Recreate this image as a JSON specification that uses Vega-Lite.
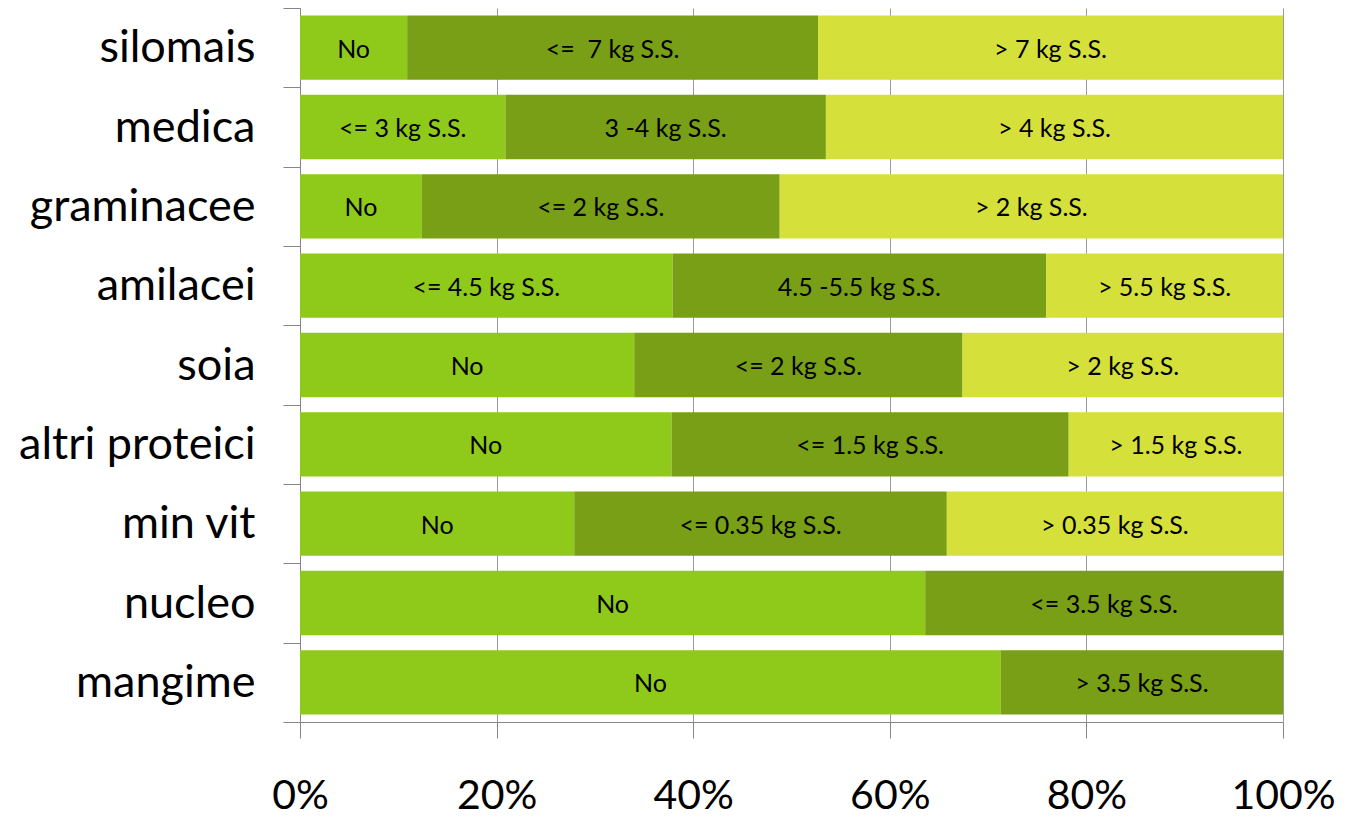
{
  "$schema": "https://vega.github.io/schema/vega-lite/v6.json",
  "autosize": {"type": "none"},
  "padding": {"left": 300, "top": 8, "right": 69, "bottom": 95},
  "width": 983,
  "height": 714,
  "background": "white",
  "config": {"view": {"stroke": null}, "font": "Lato"},
  "data": {"values": [
    {"cat": "silomais", "ord": 1, "v": 10.9, "label": "No"},
    {"cat": "silomais", "ord": 2, "v": 41.8, "label": "<= \u00a07 kg S.S."},
    {"cat": "silomais", "ord": 3, "v": 47.3, "label": "> 7 kg S.S."},
    {"cat": "medica", "ord": 1, "v": 20.9, "label": "<= 3 kg S.S."},
    {"cat": "medica", "ord": 2, "v": 32.6, "label": "3 -4 kg S.S."},
    {"cat": "medica", "ord": 3, "v": 46.5, "label": "> 4 kg S.S."},
    {"cat": "graminacee", "ord": 1, "v": 12.4, "label": "No"},
    {"cat": "graminacee", "ord": 2, "v": 36.4, "label": "<= 2 kg S.S."},
    {"cat": "graminacee", "ord": 3, "v": 51.2, "label": "> 2 kg S.S."},
    {"cat": "amilacei", "ord": 1, "v": 37.9, "label": "<= 4.5 kg S.S."},
    {"cat": "amilacei", "ord": 2, "v": 38.0, "label": "4.5 -5.5 kg S.S."},
    {"cat": "amilacei", "ord": 3, "v": 24.1, "label": "> 5.5 kg S.S."},
    {"cat": "soia", "ord": 1, "v": 34.0, "label": "No"},
    {"cat": "soia", "ord": 2, "v": 33.4, "label": "<= 2 kg S.S."},
    {"cat": "soia", "ord": 3, "v": 32.6, "label": "> 2 kg S.S."},
    {"cat": "altri proteici", "ord": 1, "v": 37.8, "label": "No"},
    {"cat": "altri proteici", "ord": 2, "v": 40.4, "label": "<= 1.5 kg S.S."},
    {"cat": "altri proteici", "ord": 3, "v": 21.8, "label": "> 1.5 kg S.S."},
    {"cat": "min vit", "ord": 1, "v": 27.9, "label": "No"},
    {"cat": "min vit", "ord": 2, "v": 37.9, "label": "<= 0.35 kg S.S."},
    {"cat": "min vit", "ord": 3, "v": 34.2, "label": "> 0.35 kg S.S."},
    {"cat": "nucleo", "ord": 1, "v": 63.6, "label": "No"},
    {"cat": "nucleo", "ord": 2, "v": 36.4, "label": "<= 3.5 kg S.S."},
    {"cat": "mangime", "ord": 1, "v": 71.3, "label": "No"},
    {"cat": "mangime", "ord": 2, "v": 28.7, "label": "> 3.5 kg S.S."}
  ]},
  "transform": [
    {"stack": "v", "groupby": ["cat"], "sort": [{"field": "ord", "order": "ascending"}], "offset": "normalize", "as": ["x0", "x1"]},
    {"calculate": "(datum.x0 + datum.x1) / 2", "as": "mid"}
  ],
  "encoding": {
    "y": {
      "field": "cat", "type": "nominal",
      "sort": ["silomais", "medica", "graminacee", "amilacei", "soia", "altri proteici", "min vit", "nucleo", "mangime"],
      "scale": {"paddingInner": 0, "paddingOuter": 0},
      "axis": {
        "title": null, "tickBand": "extent", "tickSize": 17, "tickColor": "#868686",
        "domainColor": "#868686", "labelPadding": 28, "labelFontSize": 45,
        "labelColor": "#000000", "labelFont": "Lato", "labelLimit": 0, "grid": false
      }
    }
  },
  "layer": [
    {
      "mark": {"type": "bar", "height": {"band": 0.81}},
      "encoding": {
        "x": {
          "field": "x0", "type": "quantitative",
          "scale": {"domain": [0, 1], "nice": false},
          "axis": {
            "title": null, "format": ".0%", "values": [0, 0.2, 0.4, 0.6, 0.8, 1],
            "grid": true, "gridColor": "#9a9a9a", "tickColor": "#868686",
            "domainColor": "#868686", "tickSize": 16, "labelFontSize": 41,
            "labelColor": "#000000", "labelPadding": 38, "labelFont": "Lato",
            "labelFlush": false
          }
        },
        "x2": {"field": "x1"},
        "color": {
          "field": "ord", "type": "ordinal", "legend": null,
          "scale": {"domain": [1, 2, 3], "range": ["#8fc91a", "#789f15", "#d5e13a"]}
        }
      }
    },
    {
      "mark": {"type": "text", "fontSize": 25, "color": "#000000", "font": "Lato", "baseline": "middle", "dy": 2},
      "encoding": {
        "x": {"field": "mid", "type": "quantitative"},
        "text": {"field": "label"}
      }
    }
  ]
}
